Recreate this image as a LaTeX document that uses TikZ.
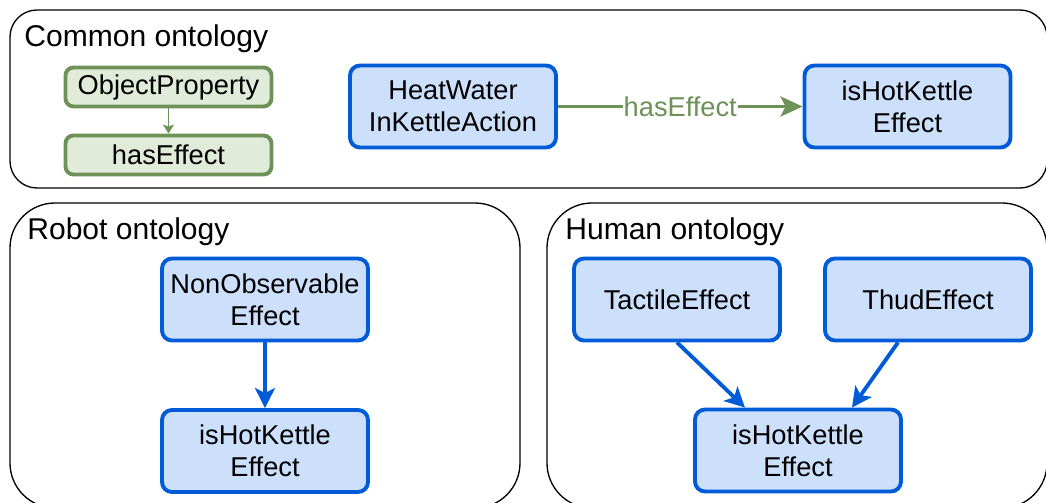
\documentclass[tikz,border=0pt]{standalone}
\usepackage{fontspec}
\setmainfont{Liberation Sans}
\usepackage{tikz}
\usetikzlibrary{positioning,arrows.meta}
\definecolor{boxblue}{HTML}{CCE0FC}
\definecolor{lineblue}{HTML}{005BD9}
\definecolor{boxgreen}{HTML}{E1EBD9}
\definecolor{linegreen}{HTML}{6D9157}

\begin{document}
\begin{tikzpicture}[
  panel/.style={draw=black, line width=0.75pt},
  panel_title/.style={anchor=base west, inner sep=0pt, font=\fontsize{17.1}{20}\selectfont},
  cls/.style={draw=lineblue, fill=boxblue, line width=2.2pt, rounded corners=0.2cm,
    minimum width=4.12cm, minimum height=1.64cm, inner sep=0pt, align=center,
    font=\fontsize{15.5}{18.2}\selectfont},
  prop/.style={draw=linegreen, fill=boxgreen, line width=2.2pt, rounded corners=0.16cm,
    minimum width=4.12cm, minimum height=0.78cm, inner sep=0pt,
    font=\fontsize{15.5}{18.2}\selectfont},
  subcls/.style={draw=lineblue, line width=2.2pt, -{Stealth[length=0.4cm, width=0.4cm, inset=0.1cm]}},
  subprop/.style={draw=linegreen, line width=0.7pt, -{Stealth[length=0.18cm, width=0.22cm, inset=0.04cm]}},
  relation/.style={draw=linegreen, line width=2.2pt, -{Stealth[length=0.44cm, width=0.4cm, inset=0.1cm]}}
]
\clip (0 cm, 0 cm) rectangle (20.92 cm, 10.04 cm);

\draw[panel, rounded corners=0.54cm] (0.2 cm, 9.84 cm) rectangle (20.94 cm, 6.28 cm);
\draw[panel, rounded corners=0.9cm] (0.2 cm, 5.98 cm) rectangle (10.4 cm, -0.12 cm);
\draw[panel, rounded corners=0.9cm] (10.94 cm, 5.98 cm) rectangle (20.94 cm, -0.12 cm);

\node[panel_title] (title_common) at (0.48 cm, 9.10 cm) {Common ontology};
\node[panel_title] (title_robot) at (0.54 cm, 5.24 cm) {Robot ontology};
\node[panel_title] (title_human) at (11.30 cm, 5.24 cm) {Human ontology};

\node[prop] (object_property) at (3.37 cm, 8.30 cm) {ObjectProperty};
\node[prop] (has_effect) at (3.37 cm, 6.94 cm) {hasEffect};
\node[cls] (heat_water) at (9.06 cm, 7.91 cm) {HeatWater\\InKettleAction};
\node[cls] (hot_common) at (18.15 cm, 7.91 cm) {isHotKettle\\Effect};

\node[cls] (non_observable) at (5.30 cm, 4.05 cm) {NonObservable\\Effect};
\node[cls] (hot_robot) at (5.30 cm, 1.02 cm) {isHotKettle\\Effect};

\node[cls] (tactile) at (13.54 cm, 4.05 cm) {TactileEffect};
\node[cls] (thud) at (18.56 cm, 4.05 cm) {ThudEffect};
\node[cls] (hot_human) at (15.96 cm, 1.03 cm) {isHotKettle\\Effect};

\draw[subprop] (object_property) to (has_effect);
\draw[relation] (heat_water) to node[fill=white, text=linegreen, inner sep=0.5pt,
  font=\fontsize{15.5}{18.2}\selectfont] {hasEffect} (hot_common);
\draw[subcls] (non_observable) to (hot_robot);
\draw[subcls] (tactile.south) to ([xshift=-1.06cm]hot_human.north);
\draw[subcls] ([xshift=-0.6cm]thud.south) to ([xshift=1.08cm]hot_human.north);
\end{tikzpicture}
\end{document}
